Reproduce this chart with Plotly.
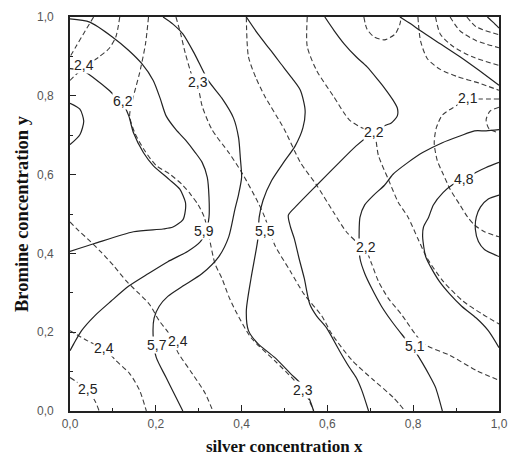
import plotly.graph_objects as go

# ---- tick labels ----
tick_vals = [0.0, 0.2, 0.4, 0.6, 0.8, 1.0]
tick_text = ["0,0", "0,2", "0,4", "0,6", "0,8", "1,0"]

# ---- solid contour lines (first property) ----
s65_x = [0, .023, .032, .023, 0]
s65_y = [.781, .766, .736, .701, .676]

s62_x = [0, .030, .057, .091, .110, .123, .137, .148, .171, .194, .231, .256, .269, .269, .263, .240, .217, .148, .057, 0]
s62_y = [.869, .864, .844, .814, .794, .781, .749, .706, .656, .623, .588, .563, .530, .510, .485, .467, .462, .455, .425, .405]

s59_x = [0, .046, .098, .137, .167, .194, .210, .224, .247, .269, .292, .308, .320, .324, .324, .317, .304, .274, .228, .183, .137, .096, .057, .027, .009, 0]
s59_y = [.995, .987, .950, .915, .882, .839, .794, .749, .714, .688, .656, .631, .593, .543, .492, .455, .430, .405, .379, .349, .317, .279, .241, .204, .171, .153]

s57_x = [.217, .240, .263, .290, .322, .354, .381, .393, .397, .400, .393, .384, .370, .347, .308, .263, .228, .208, .196, .194, .201, .224, .247, .263]
s57_y = [1.0, .982, .957, .907, .839, .794, .744, .693, .643, .593, .550, .510, .442, .392, .349, .317, .291, .266, .236, .186, .136, .085, .035, 0]

s55_x = [.411, .438, .468, .491, .518, .537, .548, .543, .525, .498, .470, .450, .441, .438, .422, .411, .416, .438, .477, .514, .546, .559, .568]
s55_y = [1.0, .957, .915, .882, .844, .814, .764, .719, .673, .631, .585, .535, .492, .437, .337, .254, .204, .171, .136, .095, .060, .028, 0]

s53_x = [.594, .616, .639, .667, .692, .719, .737, .753, .763, .763, .749, .733, .696, .667, .628, .575, .530, .509, .514, .523, .534, .546, .559, .575, .598, .628, .651, .667, .680, .696]
s53_y = [1.0, .965, .932, .899, .874, .839, .814, .789, .769, .749, .731, .724, .698, .673, .631, .573, .523, .497, .467, .437, .387, .337, .271, .241, .211, .153, .111, .085, .053, 0]

s52_x = [.769, .795, .817, .863, .909, .954, 1.0]
s52_y = [1.0, .982, .965, .932, .899, .864, .827]

s51_x = [1.0, .970, .943, .909, .868, .822, .788, .753, .733, .708, .687, .676, .674, .676, .687, .703, .726, .749, .776, .799, .822, .838, .852, .868]
s51_y = [.714, .711, .711, .698, .681, .656, .631, .601, .573, .548, .523, .492, .455, .387, .349, .312, .266, .229, .191, .161, .121, .090, .060, 0]

s48_x = [1.0, .970, .947, .918, .890, .870, .847, .836, .824, .822, .829, .840, .861, .886, .913, .947, .975, 1.0]
s48_y = [.631, .618, .606, .588, .573, .555, .523, .492, .467, .442, .392, .367, .329, .296, .266, .236, .204, .161]

s46_x = [1.0, .975, .957, .947, .945, .952, .966, 1.0]
s46_y = [.548, .538, .518, .492, .460, .430, .410, .392]

s47_x = [.973, .986, 1.0]
s47_y = [1.0, .987, .972]

# ---- dashed contour lines (second property) ----
d25a_x = [.055, .034, .014, 0]
d25a_y = [1.0, .962, .925, .899]

d24a_x = [.116, .107, .091, .068, .032, 0]
d24a_y = [1.0, .950, .920, .899, .872, .839]

d23b_x = [.183, .176, .162, .148, .139, .151, .174, .201, .233, .263, .281, .299, .313, .324, .338, .354, .370, .386, .422, .477, .523, .543, .557, .568]
d23b_y = [1.0, .932, .857, .799, .749, .706, .661, .623, .601, .573, .550, .523, .492, .442, .374, .337, .291, .254, .186, .128, .078, .053, .028, 0]

d24b_x = [0, .016, .041, .071, .103, .132, .160, .185, .208, .231, .253, .285, .315, .333]
d24b_y = [.480, .462, .437, .405, .367, .329, .299, .271, .229, .196, .146, .095, .045, 0]

d24c_x = [0, .041, .080, .107, .139, .162, .178]
d24c_y = [.204, .178, .158, .128, .095, .053, 0]

d25b_x = [0, .027, .057, .068]
d25b_y = [.085, .065, .028, 0]

d23a_x = [.247, .258, .269, .285, .299, .308, .331, .370, .400, .438, .454, .477, .514, .546, .587, .610, .658, .708, .753, .781]
d23a_y = [1.0, .957, .907, .849, .819, .774, .714, .656, .606, .530, .492, .422, .354, .296, .241, .196, .128, .078, .035, 0]

d22b_x = [.411, .416, .434, .454, .500, .537, .575, .614, .644, .667, .689, .703, .719, .742, .772, .824, .886, .947, 1.0]
d22b_y = [1.0, .899, .844, .799, .714, .631, .573, .505, .455, .430, .410, .374, .329, .286, .246, .171, .141, .103, .078]

d22a_x = [.553, .553, .575, .614, .651, .680, .708, .719, .742, .765, .788, .811, .833, .870, .916, .961, 1.0]
d22a_y = [1.0, .925, .864, .799, .739, .719, .706, .648, .588, .530, .492, .437, .387, .329, .279, .246, .221]

d22c_x = [.685, .692, .708, .733, .758, .769, .772]
d22c_y = [1.0, .970, .950, .942, .957, .982, 1.0]

d21_x = [1.0, .954, .927, .902, .868, .854, .849, .856, .870, .886, .909, .927, .943, .966, 1.0]
d21_y = [.792, .792, .792, .776, .751, .719, .681, .636, .601, .563, .523, .492, .472, .455, .442]

d20a_x = [1.0, .979, .970, .977, 1.0]
d20a_y = [.771, .761, .739, .716, .706]

r1_x = [.811, .817, .833, .863, .902, .954, 1.0]
r1_y = [1.0, .940, .894, .867, .849, .832, .814]
r2_x = [.852, .863, .893, .938, 1.0]
r2_y = [1.0, .957, .925, .899, .877]
r3_x = [.886, .909, .947, 1.0]
r3_y = [1.0, .965, .940, .922]
r4_x = [.925, .947, 1.0]
r4_y = [1.0, .975, .955]

# ---- contour labels ----
lab_text = ["6,2", "5,9", "5,5", "5,7", "5,1", "4,8",
            "2,4", "2,3", "2,2", "2,1", "2,2", "2,4", "2,4", "2,5", "2,3"]
lab_x = [.123, .313, .454, .203, .804, .918,
         .032, .299, .708, .927, .689, .080, .251, .043, .543]
lab_y = [.786, .457, .457, .168, .166, .588,
         .877, .834, .709, .794, .415, .161, .178, .055, .053]

solid_lines = [(s65_x, s65_y), (s62_x, s62_y), (s59_x, s59_y), (s57_x, s57_y),
               (s55_x, s55_y), (s53_x, s53_y), (s52_x, s52_y), (s51_x, s51_y),
               (s48_x, s48_y), (s46_x, s46_y), (s47_x, s47_y)]
dashed_lines = [(d25a_x, d25a_y), (d24a_x, d24a_y), (d23b_x, d23b_y), (d24b_x, d24b_y),
                (d24c_x, d24c_y), (d25b_x, d25b_y), (d23a_x, d23a_y), (d22b_x, d22b_y),
                (d22a_x, d22a_y), (d22c_x, d22c_y), (d21_x, d21_y), (d20a_x, d20a_y),
                (r1_x, r1_y), (r2_x, r2_y), (r3_x, r3_y), (r4_x, r4_y)]

fig = go.Figure()
for xs, ys in dashed_lines:
    fig.add_trace(go.Scatter(x=xs, y=ys, mode="lines", showlegend=False, hoverinfo="skip",
                             line=dict(color="#3c3c3c", width=1.1, dash="5px,3px",
                                       shape="spline", smoothing=0.7)))
for xs, ys in solid_lines:
    fig.add_trace(go.Scatter(x=xs, y=ys, mode="lines", showlegend=False, hoverinfo="skip",
                             line=dict(color="#222", width=1.2,
                                       shape="spline", smoothing=0.7)))

for t, lx, ly in zip(lab_text, lab_x, lab_y):
    fig.add_annotation(x=lx, y=ly, text=t, showarrow=False,
                       font=dict(family="Liberation Sans, Arial", size=14, color="#222"),
                       bgcolor="white", borderpad=0)

fig.add_annotation(xref="paper", yref="paper", x=0.5, y=0, yanchor="top", yshift=-24,
                   text="<b>silver concentration x</b>", showarrow=False,
                   font=dict(family="Liberation Serif, Times New Roman", size=17, color="#111"))
fig.add_annotation(xref="paper", yref="paper", x=0, y=0.5, xanchor="center", xshift=-48,
                   textangle=-90, text="<b>Bromine concentration y</b>", showarrow=False,
                   font=dict(family="Liberation Serif, Times New Roman", size=18.5, color="#111"))

axis_common = dict(range=[0, 1], tickvals=tick_vals, ticktext=tick_text,
                   ticks="inside", ticklen=6, tickwidth=1.2, tickcolor="#222",
                   showline=True, linecolor="#222", linewidth=1.6, mirror=True,
                   showgrid=False, zeroline=False,
                   tickfont=dict(family="Liberation Sans, Arial", size=12, color="#555"),
                   minor=dict(ticks="inside", ticklen=3.5, dtick=0.1, tickcolor="#222", showgrid=False))

fig.update_xaxes(**axis_common, ticklabelstandoff=1)
fig.update_yaxes(**axis_common, ticklabelstandoff=12)

fig.update_layout(width=518, height=465, margin=dict(l=70, r=10, t=13, b=54),
                  paper_bgcolor="white", plot_bgcolor="white")

fig.write_html("out.html")
